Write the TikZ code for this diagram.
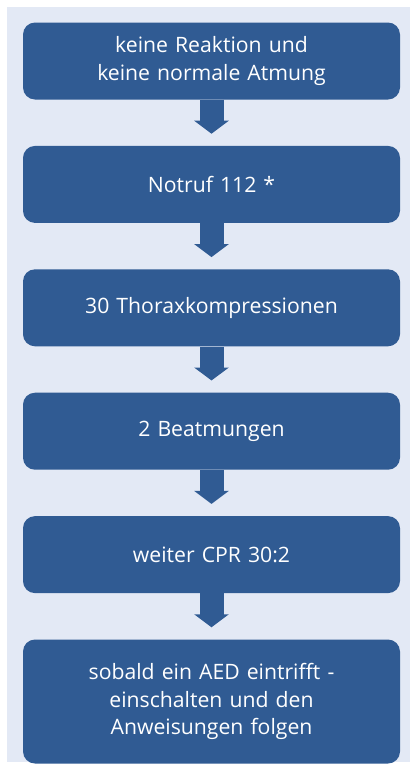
\documentclass[tikz,border=0pt]{standalone}
\usepackage{fontspec}
\setmainfont{Open Sans}
\usepackage{xcolor}
\usetikzlibrary{arrows.meta,positioning}
\definecolor{boxblue}{HTML}{305B93}
\definecolor{bgblue}{HTML}{E3E9F5}
\tikzset{
  stepbox/.style={fill=boxblue, draw=none, rounded corners=12pt, align=center, text=white, font=\fontsize{21.2}{27.5}\selectfont, inner sep=0pt, minimum height=77pt, minimum width=377pt, text width=360pt},
  blockarr/.style={draw=boxblue, line width=24pt, -{Triangle[width=34pt,length=13pt]}, shorten >=12pt}
}

\begin{document}
\begin{tikzpicture}
\useasboundingbox (0pt,0pt) rectangle (410pt,-764pt);
\fill[bgblue] (7pt,-7pt) rectangle (410pt,-762pt);
\node[stepbox] (b1) at (211.5pt,-61pt) {keine Reaktion und\\keine normale Atmung};
\node[stepbox, below=46pt of b1] (b2) {Notruf 112 *};
\node[stepbox, below=46pt of b2] (b3) {30 Thoraxkompressionen};
\node[stepbox, below=46pt of b3] (b4) {2 Beatmungen};
\node[stepbox, below=46pt of b4] (b5) {weiter CPR 30:2};
\node[stepbox, below=46pt of b5, minimum height=124pt] (b6) {sobald ein AED eintrifft -\\einschalten und den\\Anweisungen folgen};
\draw[blockarr] (b1)--(b2); \draw[blockarr] (b2)--(b3); \draw[blockarr] (b3)--(b4);
\draw[blockarr] (b4)--(b5); \draw[blockarr] (b5)--(b6);
\end{tikzpicture}
\end{document}
